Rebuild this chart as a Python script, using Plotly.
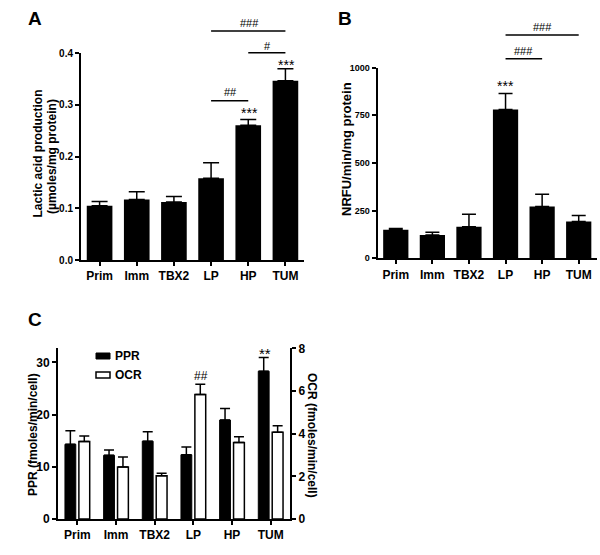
import plotly.graph_objects as go

categories = ["Prim", "Imm", "TBX2", "LP", "HP", "TUM"]

lactic = [0.105, 0.117, 0.112, 0.158, 0.261, 0.347]
lactic_err = [0.008, 0.015, 0.011, 0.030, 0.011, 0.023]

nrfu = [150, 122, 166, 780, 272, 193]
nrfu_err = [6, 14, 65, 84, 64, 31]

ppr = [14.3, 12.2, 14.9, 12.3, 18.95, 28.3]
ppr_err = [2.6, 1.0, 1.8, 1.5, 2.2, 2.6]
ocr = [3.63, 2.44, 2.03, 5.83, 3.59, 4.06]
ocr_err = [0.26, 0.47, 0.11, 0.48, 0.27, 0.31]

W, H = 600, 555
FONT = "Liberation Sans, Arial, sans-serif"


def px(x):
    return x / W


def py(y):
    return 1 - y / H


fig = go.Figure()

# Panel A
fig.add_trace(go.Bar(
    x=categories, y=lactic, xaxis="x", yaxis="y", width=0.69,
    marker=dict(color="black", line=dict(width=0)),
    error_y=dict(type="data", array=lactic_err, arrayminus=[0] * 6, symmetric=False,
                 color="black", thickness=1.5, width=8),
    showlegend=False))

# Panel B
fig.add_trace(go.Bar(
    x=categories, y=nrfu, xaxis="x2", yaxis="y2", width=0.69,
    marker=dict(color="black", line=dict(width=0)),
    error_y=dict(type="data", array=nrfu_err, arrayminus=[0] * 6, symmetric=False,
                 color="black", thickness=1.5, width=7),
    showlegend=False))

# Panel C
fig.add_trace(go.Bar(
    x=categories, y=ppr, xaxis="x3", yaxis="y3", width=0.28, offset=-0.32,
    marker=dict(color="black", line=dict(color="black", width=1)),
    error_y=dict(type="data", array=ppr_err, arrayminus=[0] * 6, symmetric=False,
                 color="black", thickness=1.5, width=5),
    name="PPR", showlegend=False))
fig.add_trace(go.Bar(
    x=categories, y=ocr, xaxis="x3", yaxis="y4", width=0.28, offset=0.04,
    marker=dict(color="white", line=dict(color="black", width=1.5)),
    error_y=dict(type="data", array=ocr_err, arrayminus=[0] * 6, symmetric=False,
                 color="black", thickness=1.5, width=5),
    name="OCR", showlegend=False))

axis_common = dict(showline=True, linecolor="black", linewidth=2, ticks="outside",
                   tickcolor="black", tickwidth=1.5, ticklen=4, showgrid=False,
                   zeroline=False, fixedrange=True, automargin=False)

xfont = dict(family=FONT, size=12, color="black", weight="bold")

fig.update_layout(
    template="none",
    width=W, height=H, margin=dict(l=0, r=0, t=0, b=0, autoexpand=False),
    paper_bgcolor="white", plot_bgcolor="white",
    barmode="overlay", font=dict(family=FONT, color="black"),
    xaxis=dict(domain=[px(81), px(304)], anchor="y", range=[-0.5, 5.5],
               tickfont=xfont, **axis_common),
    yaxis=dict(domain=[py(260), py(53.3)], anchor="x", range=[0, 0.4],
               tickvals=[0, 0.1, 0.2, 0.3, 0.4], ticktext=["0.0", "0.1", "0.2", "0.3", "0.4"],
               tickfont=dict(family=FONT, size=10, color="black", weight="bold"),
               **axis_common),
    xaxis2=dict(domain=[px(377.5), px(597)], anchor="y2", range=[-0.5, 5.5],
                tickfont=xfont, **axis_common),
    yaxis2=dict(domain=[py(258.3), py(67.5)], anchor="x2", range=[0, 1000],
                tickvals=[0, 250, 500, 750, 1000],
                tickfont=dict(family=FONT, size=9, color="black", weight="bold"),
                **axis_common),
    xaxis3=dict(domain=[px(58), px(290)], anchor="y3", range=[-0.5, 5.5],
                tickfont=xfont, **axis_common),
    yaxis3=dict(domain=[py(519), py(348.3)], anchor="x3", range=[0, 32.68],
                tickvals=[0, 10, 20, 30],
                tickfont=dict(family=FONT, size=12, color="black", weight="bold"),
                **axis_common),
    yaxis4=dict(domain=[py(519), py(348.3)], anchor="x3", overlaying="y3", side="right",
                range=[0, 8], tickvals=[0, 2, 4, 6, 8],
                tickfont=dict(family=FONT, size=12, color="black", weight="bold"),
                **axis_common),
)

annotations = []


def txt(text, x, y, size, xref="paper", bold=True, angle=0):
    annotations.append(dict(
        text=text, x=x, y=y, xref=xref, yref="paper", showarrow=False,
        xanchor="center", yanchor="middle", textangle=angle,
        font=dict(family=FONT, size=size, color="black", weight="bold" if bold else "normal")))


# panel letters
txt("A", px(35), py(19), 19)
txt("B", px(345), py(19), 19)
txt("C", px(35), py(319), 19)

# axis titles
txt("Lactic acid production", px(37.5), py(154), 12, angle=-90)
txt("(µmoles/mg protein)", px(52), py(157), 12, angle=-90)
txt("NRFU/min/mg protein", px(347), py(149), 13, angle=-90)
txt("PPR (fmoles/min/cell)", px(33), py(435), 12, angle=-90)
txt("OCR (fmoles/min/cell)", px(312), py(435), 12, angle=90)

shapes = []


def hline(xref, c0, c1, y):
    shapes.append(dict(type="line", xref=xref, yref="paper", x0=c0, x1=c1,
                       y0=py(y), y1=py(y), line=dict(color="black", width=1.5)))


# Panel A significance
hline("x", "LP", "TUM", 31)
hline("x", "HP", "TUM", 52.7)
hline("x", "LP", "HP", 100.7)
txt("###", px(249), py(23), 11, bold=False)
txt("#", px(267.5), py(45.5), 11, bold=False)
txt("##", px(230), py(92), 11, bold=False)
txt("***", px(286), py(65), 14, bold=False)
txt("***", px(249), py(113), 14, bold=False)

# Panel B significance
hline("x2", "LP", "TUM", 35)
hline("x2", "LP", "HP", 58.7)
txt("###", px(542.5), py(27), 11, bold=False)
txt("###", px(523), py(51), 11, bold=False)
txt("***", px(505), py(86), 14, bold=False)

# Panel C significance
txt("##", px(201), py(375.5), 12, bold=False)
txt("**", px(265), py(353), 15, bold=False)

# Panel C legend
shapes.append(dict(type="rect", xref="paper", yref="paper", x0=px(96), x1=px(110),
                   y0=py(359), y1=py(353), fillcolor="black", line=dict(color="black", width=1)))
shapes.append(dict(type="rect", xref="paper", yref="paper", x0=px(96), x1=px(110),
                   y0=py(378), y1=py(372), fillcolor="white", line=dict(color="black", width=1.5)))
annotations.append(dict(text="PPR", x=px(113), y=py(356), xref="paper", yref="paper",
                        showarrow=False, xanchor="left", yanchor="middle",
                        font=dict(family=FONT, size=12, color="black", weight="bold")))
annotations.append(dict(text="OCR", x=px(113), y=py(375), xref="paper", yref="paper",
                        showarrow=False, xanchor="left", yanchor="middle",
                        font=dict(family=FONT, size=12, color="black", weight="bold")))

fig.update_layout(annotations=annotations, shapes=shapes)

fig.write_html("out.html", config={"displayModeBar": False},
               post_script="document.body.style.margin='0';document.body.style.padding='0';")
